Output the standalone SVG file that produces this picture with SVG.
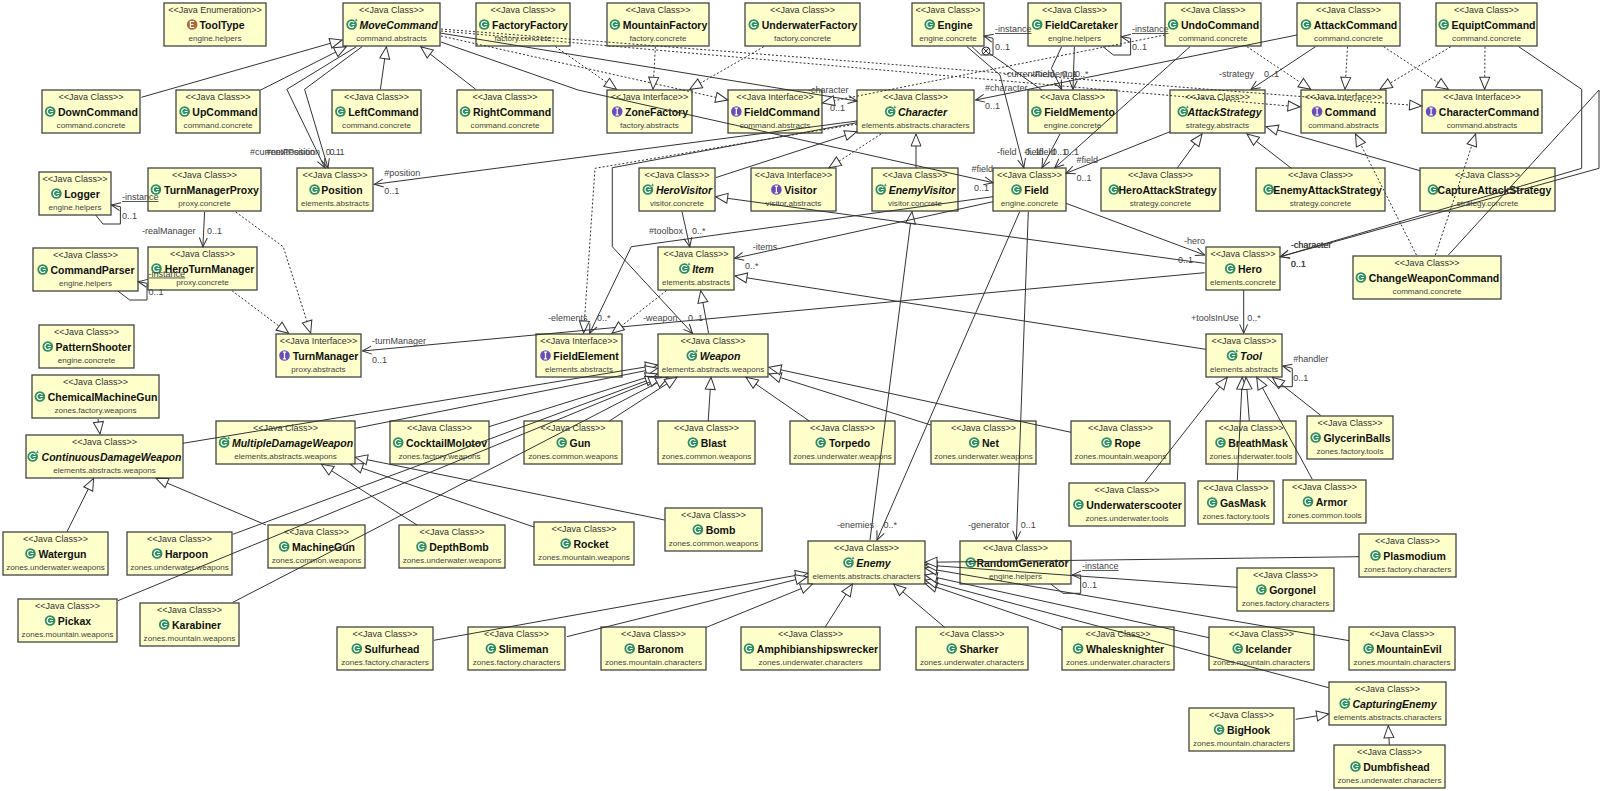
<svg xmlns="http://www.w3.org/2000/svg" width="1600" height="791" viewBox="0 0 1600 791">
<style>
text{font-family:"Liberation Sans",Arial,sans-serif;text-anchor:middle}
.n rect{fill:#ffffcc;stroke:#444;stroke-width:1.3}
.s{font-size:9px;fill:#333;transform:translateY(-.7px)}
.b{font-size:10.5px;font-weight:bold;fill:#111}
.i{font-size:10.5px;font-weight:bold;font-style:italic;fill:#111}
.p{font-size:8.1px;fill:#444;transform:translateY(-.7px)}
.l{font-size:9px;fill:#444;text-anchor:start}
.u{text-decoration:underline}
#connectors path{fill:none;stroke:#333;stroke-width:1}
#connectors .g{marker-end:url(#tri)}
#connectors .d{marker-end:url(#tri);stroke-dasharray:2 2}
#connectors .a{marker-end:url(#arr)}
</style>
<defs>
<marker id="tri" viewBox="0 0 14 14" refX="13" refY="7" markerWidth="14" markerHeight="14" markerUnits="userSpaceOnUse" orient="auto"><path d="M1,2L13,7L1,12Z" fill="#fff" stroke="#333" stroke-width="1"/></marker>
<marker id="arr" viewBox="0 0 12 12" refX="11" refY="6" markerWidth="12" markerHeight="12" markerUnits="userSpaceOnUse" orient="auto"><path d="M2,2L11,6L2,10" fill="none" stroke="#333" stroke-width="1"/></marker>
<g id="ic" transform="translate(-.8,0)"><circle r="5.3" fill="#2f8f5f"/><path d="M2.4,-1.9A3,3 0 1 0 2.4,1.9M0,0H3" fill="none" stroke="#fff" stroke-width="1.2"/></g>
<g id="ia"><use href="#ic"/><path d="M3.8,-6.6L5.6,-3.2H2Z" fill="#2f8f5f" stroke="#fff" stroke-width=".5"/></g>
<g id="ii" transform="translate(-.8,0)"><circle r="5.3" fill="#6a4db8"/><path d="M0,-3.4V3.4M-1.6,-3.4H1.6M-1.6,3.4H1.6" fill="none" stroke="#fff" stroke-width="1.2"/></g>
<g id="ie" transform="translate(-.8,0)"><circle r="5.3" fill="#b0673a"/><path d="M2,-3H-1.8V3H2M-1.8,0H1.4" fill="none" stroke="#fff" stroke-width="1.2"/></g>
</defs>
<rect width="1600" height="791" fill="#fff"/>
<g id="nodes">
<g id="ToolType" class="n" transform="translate(164,3)"><rect width="102" height="43"/><text class="s" x="51" y="11">&lt;&lt;Java Enumeration&gt;&gt;</text><use href="#ie" x="29" y="21.5"/><text class="b" x="58" y="26">ToolType</text><text class="p" x="51" y="38.5">engine.helpers</text></g>
<g id="MoveCommand" class="n" transform="translate(343,3)"><rect width="97" height="43"/><text class="s" x="48.5" y="11">&lt;&lt;Java Class&gt;&gt;</text><use href="#ia" x="9.4" y="21.5"/><text class="i" x="55.5" y="26">MoveCommand</text><text class="p" x="48.5" y="38.5">command.abstracts</text></g>
<g id="FactoryFactory" class="n" transform="translate(476,3)"><rect width="94" height="43"/><text class="s" x="47" y="11">&lt;&lt;Java Class&gt;&gt;</text><use href="#ic" x="9" y="21.5"/><text class="b" x="54" y="26">FactoryFactory</text><text class="p" x="47" y="38.5">factory.concrete</text></g>
<g id="MountainFactory" class="n" transform="translate(607,3)"><rect width="102" height="43"/><text class="s" x="51" y="11">&lt;&lt;Java Class&gt;&gt;</text><use href="#ic" x="8.7" y="21.5"/><text class="b" x="58" y="26">MountainFactory</text><text class="p" x="51" y="38.5">factory.concrete</text></g>
<g id="UnderwaterFactory" class="n" transform="translate(745,3)"><rect width="115" height="43"/><text class="s" x="57.5" y="11">&lt;&lt;Java Class&gt;&gt;</text><use href="#ic" x="9.6" y="21.5"/><text class="b" x="64.5" y="26">UnderwaterFactory</text><text class="p" x="57.5" y="38.5">factory.concrete</text></g>
<g id="Engine" class="n" transform="translate(912,3)"><rect width="72" height="43"/><text class="s" x="36" y="11">&lt;&lt;Java Class&gt;&gt;</text><use href="#ic" x="18.5" y="21.5"/><text class="b" x="43" y="26">Engine</text><text class="p" x="36" y="38.5">engine.concrete</text></g>
<g id="FieldCaretaker" class="n" transform="translate(1028,3)"><rect width="93" height="43"/><text class="s" x="46.5" y="11">&lt;&lt;Java Class&gt;&gt;</text><use href="#ic" x="10" y="21.5"/><text class="b" x="53.5" y="26">FieldCaretaker</text><text class="p" x="46.5" y="38.5">engine.helpers</text></g>
<g id="UndoCommand" class="n" transform="translate(1165,3)"><rect width="96" height="43"/><text class="s" x="48" y="11">&lt;&lt;Java Class&gt;&gt;</text><use href="#ic" x="8.9" y="21.5"/><text class="b" x="55" y="26">UndoCommand</text><text class="p" x="48" y="38.5">command.concrete</text></g>
<g id="AttackCommand" class="n" transform="translate(1297,3)"><rect width="103" height="43"/><text class="s" x="51.5" y="11">&lt;&lt;Java Class&gt;&gt;</text><use href="#ic" x="9.8" y="21.5"/><text class="b" x="58.5" y="26">AttackCommand</text><text class="p" x="51.5" y="38.5">command.concrete</text></g>
<g id="EquiptCommand" class="n" transform="translate(1436,3)"><rect width="101" height="43"/><text class="s" x="50.5" y="11">&lt;&lt;Java Class&gt;&gt;</text><use href="#ic" x="8.5" y="21.5"/><text class="b" x="57.5" y="26">EquiptCommand</text><text class="p" x="50.5" y="38.5">command.concrete</text></g>
<g id="DownCommand" class="n" transform="translate(42,90)"><rect width="98" height="43"/><text class="s" x="49" y="11">&lt;&lt;Java Class&gt;&gt;</text><use href="#ic" x="9" y="21.5"/><text class="b" x="56" y="26">DownCommand</text><text class="p" x="49" y="38.5">command.concrete</text></g>
<g id="UpCommand" class="n" transform="translate(176,90)"><rect width="84" height="43"/><text class="s" x="42" y="11">&lt;&lt;Java Class&gt;&gt;</text><use href="#ic" x="9.4" y="21.5"/><text class="b" x="49" y="26">UpCommand</text><text class="p" x="42" y="38.5">command.concrete</text></g>
<g id="LeftCommand" class="n" transform="translate(332,90)"><rect width="89" height="43"/><text class="s" x="44.5" y="11">&lt;&lt;Java Class&gt;&gt;</text><use href="#ic" x="9.2" y="21.5"/><text class="b" x="51.5" y="26">LeftCommand</text><text class="p" x="44.5" y="38.5">command.concrete</text></g>
<g id="RightCommand" class="n" transform="translate(457,90)"><rect width="96" height="43"/><text class="s" x="48" y="11">&lt;&lt;Java Class&gt;&gt;</text><use href="#ic" x="8.9" y="21.5"/><text class="b" x="55" y="26">RightCommand</text><text class="p" x="48" y="38.5">command.concrete</text></g>
<g id="ZoneFactory" class="n" transform="translate(607,90)"><rect width="85" height="43"/><text class="s" x="42.5" y="11">&lt;&lt;Java Interface&gt;&gt;</text><use href="#ii" x="11" y="21.5"/><text class="b" x="49.5" y="26">ZoneFactory</text><text class="p" x="42.5" y="38.5">factory.abstracts</text></g>
<g id="FieldCommand" class="n" transform="translate(728,90)"><rect width="94" height="43"/><text class="s" x="47" y="11">&lt;&lt;Java Interface&gt;&gt;</text><use href="#ii" x="9.1" y="21.5"/><text class="b" x="54" y="26">FieldCommand</text><text class="p" x="47" y="38.5">command.abstracts</text></g>
<g id="Character" class="n" transform="translate(857,90)"><rect width="117" height="43"/><text class="s" x="58.5" y="11">&lt;&lt;Java Class&gt;&gt;</text><use href="#ia" x="34" y="21.5"/><text class="i" x="65.5" y="26">Character</text><text class="p" x="58.5" y="38.5">elements.abstracts.characters</text></g>
<g id="FieldMemento" class="n" transform="translate(1028,90)"><rect width="89" height="43"/><text class="s" x="44.5" y="11">&lt;&lt;Java Class&gt;&gt;</text><use href="#ic" x="9.2" y="21.5"/><text class="b" x="51.5" y="26">FieldMemento</text><text class="p" x="44.5" y="38.5">engine.concrete</text></g>
<g id="AttackStrategy" class="n" transform="translate(1170,90)"><rect width="95" height="43"/><text class="s" x="47.5" y="11">&lt;&lt;Java Class&gt;&gt;</text><use href="#ia" x="13.6" y="21.5"/><text class="i" x="54.5" y="26">AttackStrategy</text><text class="p" x="47.5" y="38.5">strategy.abstracts</text></g>
<g id="Command" class="n" transform="translate(1301,90)"><rect width="85" height="43"/><text class="s" x="42.5" y="11">&lt;&lt;Java Interface&gt;&gt;</text><use href="#ii" x="16.9" y="21.5"/><text class="b" x="49.5" y="26">Command</text><text class="p" x="42.5" y="38.5">command.abstracts</text></g>
<g id="CharacterCommand" class="n" transform="translate(1422,90)"><rect width="120" height="43"/><text class="s" x="60" y="11">&lt;&lt;Java Interface&gt;&gt;</text><use href="#ii" x="9.9" y="21.5"/><text class="b" x="67" y="26">CharacterCommand</text><text class="p" x="60" y="38.5">command.abstracts</text></g>
<g id="TurnManagerProxy" class="n" transform="translate(148,168)"><rect width="113" height="43"/><text class="s" x="56.5" y="11">&lt;&lt;Java Class&gt;&gt;</text><use href="#ic" x="8.7" y="21.5"/><text class="b" x="63.5" y="26">TurnManagerProxy</text><text class="p" x="56.5" y="38.5">proxy.concrete</text></g>
<g id="Logger" class="n" transform="translate(39,172)"><rect width="72" height="43"/><text class="s" x="36" y="11">&lt;&lt;Java Class&gt;&gt;</text><use href="#ic" x="18.2" y="21.5"/><text class="b" x="43" y="26">Logger</text><text class="p" x="36" y="38.5">engine.helpers</text></g>
<g id="Position" class="n" transform="translate(297,168)"><rect width="76" height="43"/><text class="s" x="38" y="11">&lt;&lt;Java Class&gt;&gt;</text><use href="#ic" x="18.4" y="21.5"/><text class="b" x="45" y="26">Position</text><text class="p" x="38" y="38.5">elements.abstracts</text></g>
<g id="HeroVisitor" class="n" transform="translate(639,168)"><rect width="76" height="43"/><text class="s" x="38" y="11">&lt;&lt;Java Class&gt;&gt;</text><use href="#ia" x="9.7" y="21.5"/><text class="i" x="45" y="26">HeroVisitor</text><text class="p" x="38" y="38.5">visitor.concrete</text></g>
<g id="Visitor" class="n" transform="translate(751,168)"><rect width="85" height="43"/><text class="s" x="42.5" y="11">&lt;&lt;Java Interface&gt;&gt;</text><use href="#ii" x="26.2" y="21.5"/><text class="b" x="49.5" y="26">Visitor</text><text class="p" x="42.5" y="38.5">visitor.abstracts</text></g>
<g id="EnemyVisitor" class="n" transform="translate(872,168)"><rect width="86" height="43"/><text class="s" x="43" y="11">&lt;&lt;Java Class&gt;&gt;</text><use href="#ia" x="9.5" y="21.5"/><text class="i" x="50" y="26">EnemyVisitor</text><text class="p" x="43" y="38.5">visitor.concrete</text></g>
<g id="Field" class="n" transform="translate(993,168)"><rect width="73" height="43"/><text class="s" x="36.5" y="11">&lt;&lt;Java Class&gt;&gt;</text><use href="#ic" x="24.3" y="21.5"/><text class="b" x="43.5" y="26">Field</text><text class="p" x="36.5" y="38.5">engine.concrete</text></g>
<g id="HeroAttackStrategy" class="n" transform="translate(1101,168)"><rect width="119" height="43"/><text class="s" x="59.5" y="11">&lt;&lt;Java Class&gt;&gt;</text><use href="#ic" x="13.7" y="21.5"/><text class="b" x="66.5" y="26">HeroAttackStrategy</text><text class="p" x="59.5" y="38.5">strategy.concrete</text></g>
<g id="EnemyAttackStrategy" class="n" transform="translate(1256,168)"><rect width="129" height="43"/><text class="s" x="64.5" y="11">&lt;&lt;Java Class&gt;&gt;</text><use href="#ic" x="13.4" y="21.5"/><text class="b" x="71.5" y="26">EnemyAttackStrategy</text><text class="p" x="64.5" y="38.5">strategy.concrete</text></g>
<g id="CaptureAttackStrategy" class="n" transform="translate(1420,168)"><rect width="135" height="43"/><text class="s" x="67.5" y="11">&lt;&lt;Java Class&gt;&gt;</text><use href="#ic" x="13.8" y="21.5"/><text class="b" x="74.5" y="26">CaptureAttackStrategy</text><text class="p" x="67.5" y="38.5">strategy.concrete</text></g>
<g id="CommandParser" class="n" transform="translate(33,248)"><rect width="105" height="43"/><text class="s" x="52.5" y="11">&lt;&lt;Java Class&gt;&gt;</text><use href="#ic" x="10.5" y="21.5"/><text class="b" x="59.5" y="26">CommandParser</text><text class="p" x="52.5" y="38.5">engine.helpers</text></g>
<g id="HeroTurnManager" class="n" transform="translate(148,247)"><rect width="109" height="43"/><text class="s" x="54.5" y="11">&lt;&lt;Java Class&gt;&gt;</text><use href="#ic" x="9.3" y="21.5"/><text class="b" x="61.5" y="26">HeroTurnManager</text><text class="p" x="54.5" y="38.5">proxy.concrete</text></g>
<g id="Item" class="n" transform="translate(658,247)"><rect width="76" height="43"/><text class="s" x="38" y="11">&lt;&lt;Java Class&gt;&gt;</text><use href="#ia" x="27.2" y="21.5"/><text class="i" x="45" y="26">Item</text><text class="p" x="38" y="38.5">elements.abstracts</text></g>
<g id="Hero" class="n" transform="translate(1206,247)"><rect width="74" height="43"/><text class="s" x="37" y="11">&lt;&lt;Java Class&gt;&gt;</text><use href="#ic" x="25" y="21.5"/><text class="b" x="44" y="26">Hero</text><text class="p" x="37" y="38.5">elements.concrete</text></g>
<g id="ChangeWeaponCommand" class="n" transform="translate(1353,256)"><rect width="148" height="43"/><text class="s" x="74" y="11">&lt;&lt;Java Class&gt;&gt;</text><use href="#ic" x="8.7" y="21.5"/><text class="b" x="81" y="26">ChangeWeaponCommand</text><text class="p" x="74" y="38.5">command.concrete</text></g>
<g id="PatternShooter" class="n" transform="translate(39,325)"><rect width="95" height="43"/><text class="s" x="47.5" y="11">&lt;&lt;Java Class&gt;&gt;</text><use href="#ic" x="9.6" y="21.5"/><text class="b" x="54.5" y="26">PatternShooter</text><text class="p" x="47.5" y="38.5">engine.concrete</text></g>
<g id="TurnManager" class="n" transform="translate(276,334)"><rect width="85" height="43"/><text class="s" x="42.5" y="11">&lt;&lt;Java Interface&gt;&gt;</text><use href="#ii" x="9.3" y="21.5"/><text class="b" x="49.5" y="26">TurnManager</text><text class="p" x="42.5" y="38.5">proxy.abstracts</text></g>
<g id="FieldElement" class="n" transform="translate(536,334)"><rect width="86" height="43"/><text class="s" x="43" y="11">&lt;&lt;Java Interface&gt;&gt;</text><use href="#ii" x="10.3" y="21.5"/><text class="b" x="50" y="26">FieldElement</text><text class="p" x="43" y="38.5">elements.abstracts</text></g>
<g id="Weapon" class="n" transform="translate(658,334)"><rect width="110" height="43"/><text class="s" x="55" y="11">&lt;&lt;Java Class&gt;&gt;</text><use href="#ia" x="34.6" y="21.5"/><text class="i" x="62" y="26">Weapon</text><text class="p" x="55" y="38.5">elements.abstracts.weapons</text></g>
<g id="Tool" class="n" transform="translate(1206,334)"><rect width="76" height="43"/><text class="s" x="38" y="11">&lt;&lt;Java Class&gt;&gt;</text><use href="#ia" x="26.9" y="21.5"/><text class="i" x="45" y="26">Tool</text><text class="p" x="38" y="38.5">elements.abstracts</text></g>
<g id="ChemicalMachineGun" class="n" transform="translate(32,375)"><rect width="127" height="43"/><text class="s" x="63.5" y="11">&lt;&lt;Java Class&gt;&gt;</text><use href="#ic" x="8.7" y="21.5"/><text class="b" x="70.5" y="26">ChemicalMachineGun</text><text class="p" x="63.5" y="38.5">zones.factory.weapons</text></g>
<g id="ContinuousDamageWeapon" class="n" transform="translate(26,435)"><rect width="157" height="43"/><text class="s" x="78.5" y="11">&lt;&lt;Java Class&gt;&gt;</text><use href="#ia" x="7.5" y="21.5"/><text class="i" x="85.5" y="26">ContinuousDamageWeapon</text><text class="p" x="78.5" y="38.5">elements.abstracts.weapons</text></g>
<g id="MultipleDamageWeapon" class="n" transform="translate(216,421)"><rect width="139" height="43"/><text class="s" x="69.5" y="11">&lt;&lt;Java Class&gt;&gt;</text><use href="#ia" x="8.9" y="21.5"/><text class="i" x="76.5" y="26">MultipleDamageWeapon</text><text class="p" x="69.5" y="38.5">elements.abstracts.weapons</text></g>
<g id="CocktailMolotov" class="n" transform="translate(390,421)"><rect width="99" height="43"/><text class="s" x="49.5" y="11">&lt;&lt;Java Class&gt;&gt;</text><use href="#ic" x="9" y="21.5"/><text class="b" x="56.5" y="26">CocktailMolotov</text><text class="p" x="49.5" y="38.5">zones.factory.weapons</text></g>
<g id="Gun" class="n" transform="translate(524,421)"><rect width="98" height="43"/><text class="s" x="49" y="11">&lt;&lt;Java Class&gt;&gt;</text><use href="#ic" x="38.5" y="21.5"/><text class="b" x="56" y="26">Gun</text><text class="p" x="49" y="38.5">zones.common.weapons</text></g>
<g id="Blast" class="n" transform="translate(658,421)"><rect width="97" height="43"/><text class="s" x="48.5" y="11">&lt;&lt;Java Class&gt;&gt;</text><use href="#ic" x="35.7" y="21.5"/><text class="b" x="55.5" y="26">Blast</text><text class="p" x="48.5" y="38.5">zones.common.weapons</text></g>
<g id="Torpedo" class="n" transform="translate(790,421)"><rect width="105" height="43"/><text class="s" x="52.5" y="11">&lt;&lt;Java Class&gt;&gt;</text><use href="#ic" x="31.5" y="21.5"/><text class="b" x="59.5" y="26">Torpedo</text><text class="p" x="52.5" y="38.5">zones.underwater.weapons</text></g>
<g id="Net" class="n" transform="translate(931,421)"><rect width="105" height="43"/><text class="s" x="52.5" y="11">&lt;&lt;Java Class&gt;&gt;</text><use href="#ic" x="44" y="21.5"/><text class="b" x="59.5" y="26">Net</text><text class="p" x="52.5" y="38.5">zones.underwater.weapons</text></g>
<g id="Rope" class="n" transform="translate(1071,421)"><rect width="99" height="43"/><text class="s" x="49.5" y="11">&lt;&lt;Java Class&gt;&gt;</text><use href="#ic" x="36.4" y="21.5"/><text class="b" x="56.5" y="26">Rope</text><text class="p" x="49.5" y="38.5">zones.mountain.weapons</text></g>
<g id="BreathMask" class="n" transform="translate(1206,421)"><rect width="90" height="43"/><text class="s" x="45" y="11">&lt;&lt;Java Class&gt;&gt;</text><use href="#ic" x="15.3" y="21.5"/><text class="b" x="52" y="26">BreathMask</text><text class="p" x="45" y="38.5">zones.underwater.tools</text></g>
<g id="GlycerinBalls" class="n" transform="translate(1307,416)"><rect width="86" height="43"/><text class="s" x="43" y="11">&lt;&lt;Java Class&gt;&gt;</text><use href="#ic" x="9.5" y="21.5"/><text class="b" x="50" y="26">GlycerinBalls</text><text class="p" x="43" y="38.5">zones.factory.tools</text></g>
<g id="Underwaterscooter" class="n" transform="translate(1069,483)"><rect width="116" height="43"/><text class="s" x="58" y="11">&lt;&lt;Java Class&gt;&gt;</text><use href="#ic" x="10.2" y="21.5"/><text class="b" x="65" y="26">Underwaterscooter</text><text class="p" x="58" y="38.5">zones.underwater.tools</text></g>
<g id="GasMask" class="n" transform="translate(1198,481)"><rect width="76" height="43"/><text class="s" x="38" y="11">&lt;&lt;Java Class&gt;&gt;</text><use href="#ic" x="15" y="21.5"/><text class="b" x="45" y="26">GasMask</text><text class="p" x="38" y="38.5">zones.factory.tools</text></g>
<g id="Armor" class="n" transform="translate(1283,480)"><rect width="83" height="43"/><text class="s" x="41.5" y="11">&lt;&lt;Java Class&gt;&gt;</text><use href="#ic" x="25.8" y="21.5"/><text class="b" x="48.5" y="26">Armor</text><text class="p" x="41.5" y="38.5">zones.common.tools</text></g>
<g id="Bomb" class="n" transform="translate(665,508)"><rect width="97" height="43"/><text class="s" x="48.5" y="11">&lt;&lt;Java Class&gt;&gt;</text><use href="#ic" x="33.7" y="21.5"/><text class="b" x="55.5" y="26">Bomb</text><text class="p" x="48.5" y="38.5">zones.common.weapons</text></g>
<g id="Rocket" class="n" transform="translate(534,522)"><rect width="100" height="43"/><text class="s" x="50" y="11">&lt;&lt;Java Class&gt;&gt;</text><use href="#ic" x="32.5" y="21.5"/><text class="b" x="57" y="26">Rocket</text><text class="p" x="50" y="38.5">zones.mountain.weapons</text></g>
<g id="Watergun" class="n" transform="translate(3,532)"><rect width="105" height="43"/><text class="s" x="52.5" y="11">&lt;&lt;Java Class&gt;&gt;</text><use href="#ic" x="28.3" y="21.5"/><text class="b" x="59.5" y="26">Watergun</text><text class="p" x="52.5" y="38.5">zones.underwater.weapons</text></g>
<g id="Harpoon" class="n" transform="translate(127,532)"><rect width="105" height="43"/><text class="s" x="52.5" y="11">&lt;&lt;Java Class&gt;&gt;</text><use href="#ic" x="30.9" y="21.5"/><text class="b" x="59.5" y="26">Harpoon</text><text class="p" x="52.5" y="38.5">zones.underwater.weapons</text></g>
<g id="MachineGun" class="n" transform="translate(268,525)"><rect width="97" height="43"/><text class="s" x="48.5" y="11">&lt;&lt;Java Class&gt;&gt;</text><use href="#ic" x="17" y="21.5"/><text class="b" x="55.5" y="26">MachineGun</text><text class="p" x="48.5" y="38.5">zones.common.weapons</text></g>
<g id="DepthBomb" class="n" transform="translate(399,525)"><rect width="106" height="43"/><text class="s" x="53" y="11">&lt;&lt;Java Class&gt;&gt;</text><use href="#ic" x="23.3" y="21.5"/><text class="b" x="60" y="26">DepthBomb</text><text class="p" x="53" y="38.5">zones.underwater.weapons</text></g>
<g id="Pickax" class="n" transform="translate(18,599)"><rect width="99" height="43"/><text class="s" x="49.5" y="11">&lt;&lt;Java Class&gt;&gt;</text><use href="#ic" x="32.9" y="21.5"/><text class="b" x="56.5" y="26">Pickax</text><text class="p" x="49.5" y="38.5">zones.mountain.weapons</text></g>
<g id="Karabiner" class="n" transform="translate(140,603)"><rect width="99" height="43"/><text class="s" x="49.5" y="11">&lt;&lt;Java Class&gt;&gt;</text><use href="#ic" x="25" y="21.5"/><text class="b" x="56.5" y="26">Karabiner</text><text class="p" x="49.5" y="38.5">zones.mountain.weapons</text></g>
<g id="Enemy" class="n" transform="translate(808,541)"><rect width="117" height="43"/><text class="s" x="58.5" y="11">&lt;&lt;Java Class&gt;&gt;</text><use href="#ia" x="41.3" y="21.5"/><text class="i" x="65.5" y="26">Enemy</text><text class="p" x="58.5" y="38.5">elements.abstracts.characters</text></g>
<g id="RandomGenerator" class="n" transform="translate(960,541)"><rect width="111" height="43"/><text class="s" x="55.5" y="11">&lt;&lt;Java Class&gt;&gt;</text><use href="#ic" x="11.5" y="21.5"/><text class="b" x="62.5" y="26">RandomGenerator</text><text class="p" x="55.5" y="38.5">engine.helpers</text></g>
<g id="Plasmodium" class="n" transform="translate(1359,534)"><rect width="97" height="43"/><text class="s" x="48.5" y="11">&lt;&lt;Java Class&gt;&gt;</text><use href="#ic" x="17.3" y="21.5"/><text class="b" x="55.5" y="26">Plasmodium</text><text class="p" x="48.5" y="38.5">zones.factory.characters</text></g>
<g id="Gorgonel" class="n" transform="translate(1237,568)"><rect width="97" height="43"/><text class="s" x="48.5" y="11">&lt;&lt;Java Class&gt;&gt;</text><use href="#ic" x="25.2" y="21.5"/><text class="b" x="55.5" y="26">Gorgonel</text><text class="p" x="48.5" y="38.5">zones.factory.characters</text></g>
<g id="Sulfurhead" class="n" transform="translate(337,627)"><rect width="96" height="43"/><text class="s" x="48" y="11">&lt;&lt;Java Class&gt;&gt;</text><use href="#ic" x="20.6" y="21.5"/><text class="b" x="55" y="26">Sulfurhead</text><text class="p" x="48" y="38.5">zones.factory.characters</text></g>
<g id="Slimeman" class="n" transform="translate(468,627)"><rect width="97" height="43"/><text class="s" x="48.5" y="11">&lt;&lt;Java Class&gt;&gt;</text><use href="#ic" x="23.7" y="21.5"/><text class="b" x="55.5" y="26">Slimeman</text><text class="p" x="48.5" y="38.5">zones.factory.characters</text></g>
<g id="Baronom" class="n" transform="translate(601,627)"><rect width="105" height="43"/><text class="s" x="52.5" y="11">&lt;&lt;Java Class&gt;&gt;</text><use href="#ic" x="29.5" y="21.5"/><text class="b" x="59.5" y="26">Baronom</text><text class="p" x="52.5" y="38.5">zones.mountain.characters</text></g>
<g id="Amphibianshipswrecker" class="n" transform="translate(741,627)"><rect width="139" height="43"/><text class="s" x="69.5" y="11">&lt;&lt;Java Class&gt;&gt;</text><use href="#ic" x="8.8" y="21.5"/><text class="b" x="76.5" y="26">Amphibianshipswrecker</text><text class="p" x="69.5" y="38.5">zones.underwater.characters</text></g>
<g id="Sharker" class="n" transform="translate(916,627)"><rect width="112" height="43"/><text class="s" x="56" y="11">&lt;&lt;Java Class&gt;&gt;</text><use href="#ic" x="36.5" y="21.5"/><text class="b" x="63" y="26">Sharker</text><text class="p" x="56" y="38.5">zones.underwater.characters</text></g>
<g id="Whalesknighter" class="n" transform="translate(1062,627)"><rect width="112" height="43"/><text class="s" x="56" y="11">&lt;&lt;Java Class&gt;&gt;</text><use href="#ic" x="16.9" y="21.5"/><text class="b" x="63" y="26">Whalesknighter</text><text class="p" x="56" y="38.5">zones.underwater.characters</text></g>
<g id="Icelander" class="n" transform="translate(1209,627)"><rect width="105" height="43"/><text class="s" x="52.5" y="11">&lt;&lt;Java Class&gt;&gt;</text><use href="#ic" x="29.5" y="21.5"/><text class="b" x="59.5" y="26">Icelander</text><text class="p" x="52.5" y="38.5">zones.mountain.characters</text></g>
<g id="MountainEvil" class="n" transform="translate(1349,627)"><rect width="106" height="43"/><text class="s" x="53" y="11">&lt;&lt;Java Class&gt;&gt;</text><use href="#ic" x="20.4" y="21.5"/><text class="b" x="60" y="26">MountainEvil</text><text class="p" x="53" y="38.5">zones.mountain.characters</text></g>
<g id="CapturingEnemy" class="n" transform="translate(1329,682)"><rect width="117" height="43"/><text class="s" x="58.5" y="11">&lt;&lt;Java Class&gt;&gt;</text><use href="#ia" x="16.5" y="21.5"/><text class="i" x="65.5" y="26">CapturingEnemy</text><text class="p" x="58.5" y="38.5">elements.abstracts.characters</text></g>
<g id="BigHook" class="n" transform="translate(1189,708)"><rect width="105" height="43"/><text class="s" x="52.5" y="11">&lt;&lt;Java Class&gt;&gt;</text><use href="#ic" x="30.9" y="21.5"/><text class="b" x="59.5" y="26">BigHook</text><text class="p" x="52.5" y="38.5">zones.mountain.characters</text></g>
<g id="Dumbfishead" class="n" transform="translate(1334,745)"><rect width="111" height="43"/><text class="s" x="55.5" y="11">&lt;&lt;Java Class&gt;&gt;</text><use href="#ic" x="22.3" y="21.5"/><text class="b" x="62.5" y="26">Dumbfishead</text><text class="p" x="55.5" y="38.5">zones.underwater.characters</text></g>
</g>
<g id="connectors">
<path class="g" d="M141.4,97.3L342,40"/>
<path class="g" d="M260.7,90L346.4,46.7"/>
<path class="a" d="M356.4,46.7L286.8,89.3L325,168"/>
<path class="a" d="M362,46.7L304.6,89.3L328,168"/>
<path class="g" d="M380.4,89.3L386.4,46.7"/>
<path class="g" d="M475.7,89.3L420.7,46.7"/>
<path class="a" d="M857,121L374.3,184.3"/>
<path class="a" d="M857,122.7L612.3,167.7V246.7L692.5,333.3"/>
<path class="d" d="M857,124L595,168.3L583.6,333"/>
<path class="a" d="M440,33L857,101"/>
<path class="a" d="M441,42L578,90L993,182.7"/>
<path class="d" d="M441,36L727.7,100"/>
<path class="d" d="M441,29L1421.6,106"/>
<path class="d" d="M441,31L1300,107"/>
<path class="d" d="M555.5,46.7L616.5,89.3"/>
<path class="d" d="M655.4,46.7L653,89.3"/>
<path class="d" d="M763.8,46.7L689.8,89.3"/>
<path class="d" d="M1165,35L822.4,103"/>
<path class="d" d="M881,134L829,167.7"/>
<path class="g" d="M715.6,177.7L856.8,131.7"/>
<path class="g" d="M916,168.3V134"/>
<path class="g" d="M870,540L912,211.7"/>
<path class="g" d="M1204.6,263.3L715.6,196.7"/>
<path class="a" d="M1066,203.3L1204.6,255"/>
<path class="a" d="M1204.6,272.7L362.5,351"/>
<path class="a" d="M993,201.7L734.6,258.3"/>
<path class="g" d="M1205.7,349.3L735,276"/>
<path class="d" d="M666.4,290.7L612,333.3"/>
<path class="g" d="M708.6,333.3L700.7,290.7"/>
<path class="a" d="M682,211.7L689.8,246.7"/>
<path class="a" d="M993,196.7L631.3,246.7L589.6,333.3"/>
<path class="a" d="M1019.7,211.7L877,540"/>
<path class="a" d="M1028.3,211.7L1016.4,540"/>
<path class="a" d="M967,46.7L1000,75L1023.8,167.7"/>
<path class="a" d="M972,46.7L980.8,55H993V38.3L984,36"/>
<path d="M986,51L1042,90"/>
<circle cx="986" cy="51" r="4" fill="#fff" stroke="#333"/>
<path d="M983.2,48.2L988.8,53.8M988.8,48.2L983.2,53.8"/>
<path class="a" d="M1074.4,46.7L1073,89.3"/>
<path class="a" d="M1061.7,46.7L1051.4,68.3L1061.7,89.3"/>
<path class="a" d="M1297,35L975.6,100"/>
<path class="a" d="M1103,46.7L1113.4,55H1130.6V38.3L1121.3,36.7"/>
<path class="a" d="M1190,46.7L1054.8,167.7"/>
<path class="a" d="M1060,134L1042,167.7"/>
<path class="a" d="M1170,131.7L1066,173.3"/>
<path class="a" d="M1315.5,46.7L1251,89.3"/>
<path class="d" d="M1347.5,46.7L1345,89.3"/>
<path class="d" d="M1383.7,46.7L1448.4,89.3"/>
<path class="d" d="M1247,46.7L1310.7,89.3"/>
<path class="d" d="M1450.8,46.7L1380,89.3"/>
<path class="d" d="M1485,46.7L1484.6,89.3"/>
<path class="a" d="M1518.7,46.7L1581.7,89.3V168.3L1280.4,256.7"/>
<path class="a" d="M1448.4,255L1599,90V168.3L1280.4,256.7"/>
<path class="g" d="M1177,168.3L1202,134"/>
<path class="g" d="M1291.4,168.3L1247,134"/>
<path class="g" d="M1420,170.7L1266,126.7"/>
<path class="d" d="M1416.4,255L1355.5,134"/>
<path class="d" d="M1435.4,255L1475.6,134"/>
<path class="a" d="M95.7,215L102.9,224H120.4V206.7L111.4,205"/>
<path class="a" d="M204.6,212L202.9,246.7"/>
<path class="d" d="M235.7,212L283.2,246.7L310.7,333"/>
<path class="d" d="M232,290.7L288.6,333.3"/>
<path class="a" d="M117.9,291L129.6,300H147V283.3L138.2,281.7"/>
<path class="g" d="M98,419L100,434"/>
<path class="g" d="M67,531.7L93.6,478.3"/>
<path class="g" d="M266,525L156,478.3"/>
<path class="g" d="M182.9,443.3L657.5,365"/>
<path class="g" d="M355.4,428.3L657.5,368.3"/>
<path class="g" d="M489,426.7L657.5,374"/>
<path class="g" d="M232.9,534.3L657.5,376.7"/>
<path class="g" d="M117.9,600.7L661,377.3"/>
<path class="g" d="M232.9,602.3L668,377.3"/>
<path class="g" d="M609.3,421L677,377.3"/>
<path class="g" d="M708.2,421L711,377.3"/>
<path class="g" d="M809.3,421L746,377.3"/>
<path class="g" d="M930.7,425L769,374"/>
<path class="g" d="M1071,432.3L769,367.3"/>
<path class="g" d="M417,525L321.4,464.3"/>
<path class="g" d="M534,527L350.7,464.3"/>
<path class="g" d="M664.6,520L355.4,457.3"/>
<path class="g" d="M1145,482.3L1227.3,377.3"/>
<path class="g" d="M1237.3,480L1242.3,377.3"/>
<path class="g" d="M1249.3,420.7L1246,377.3"/>
<path class="g" d="M1312.3,479.3L1256.7,377.3"/>
<path class="g" d="M1320.7,415.3L1272.3,377.3"/>
<path class="a" d="M1266.7,377.3L1277.3,386.7H1292.3V368.3L1282.7,366"/>
<path class="a" d="M1243.7,290V333.3"/>
<path class="g" d="M433.9,640.3L807.5,573.3"/>
<path class="g" d="M566.8,636.7L807.5,576.7"/>
<path class="g" d="M706.4,627.3L812.5,584"/>
<path class="g" d="M825,627.3L852.5,584"/>
<path class="g" d="M944.6,627.3L893.6,584"/>
<path class="g" d="M1062,630L925,583.3"/>
<path class="g" d="M1328.7,687.7L925,580"/>
<path class="g" d="M1209,637.7L925,575"/>
<path class="g" d="M1349.3,640.7L925,568"/>
<path class="g" d="M1237.3,587.3L925,565"/>
<path class="g" d="M1359,556.7L925,562.3"/>
<path class="g" d="M1295.7,719.3L1328.7,714"/>
<path class="g" d="M1389.3,744.7L1388.3,725.7"/>
<path class="a" d="M1050.7,584L1063,593.3H1080.7V575L1072.1,575"/>
<text class="l" x="250" y="155">#currentPosition</text>
<text class="l" x="266" y="155">#nextPosition</text>
<text class="l" x="325.7" y="155">0..1</text>
<text class="l" x="329.5" y="155">0..1</text>
<text class="l" x="384.3" y="176">#position</text>
<text class="l" x="384.3" y="194">0..1</text>
<text class="l u" x="122" y="200">-instance</text>
<text class="l" x="122" y="219">0..1</text>
<text class="l" x="142" y="234">-realManager</text>
<text class="l" x="207" y="234">0..1</text>
<text class="l u" x="148.6" y="276.5">-instance</text>
<text class="l" x="148.6" y="295">0..1</text>
<text class="l" x="372" y="344">-turnManager</text>
<text class="l" x="372" y="362.5">0..1</text>
<text class="l" x="548" y="321">-elements</text>
<text class="l" x="597" y="321">0..*</text>
<text class="l" x="643" y="320.5">-weapon</text>
<text class="l" x="688" y="320.5">0..1</text>
<text class="l" x="649" y="234">#toolbox</text>
<text class="l" x="692" y="234">0..*</text>
<text class="l" x="752.8" y="250">-items</text>
<text class="l" x="745" y="269">0..*</text>
<text class="l" x="808" y="92.5">-character</text>
<text class="l" x="830" y="111">0..1</text>
<text class="l" x="985" y="90.5">#character</text>
<text class="l" x="985" y="109">0..1</text>
<text class="l" x="971.5" y="172">#field</text>
<text class="l" x="974" y="191">0..1</text>
<text class="l u" x="995" y="32">-instance</text>
<text class="l" x="995" y="50">0..1</text>
<text class="l u" x="1132" y="32">-instance</text>
<text class="l" x="1132" y="50">0..1</text>
<text class="l" x="1004" y="77">-currentField</text>
<text class="l" x="1032" y="77">-mementos</text>
<text class="l" x="1062" y="77">0..1</text>
<text class="l" x="1075" y="77">0..*</text>
<text class="l" x="997" y="155">-field</text>
<text class="l" x="1024" y="155">-field</text>
<text class="l" x="1025" y="155">0..1</text>
<text class="l" x="1036" y="155">-field</text>
<text class="l" x="1052" y="155">0..1</text>
<text class="l" x="1064" y="155">0..1</text>
<text class="l" x="1076.5" y="163">#field</text>
<text class="l" x="1076.5" y="181">0..1</text>
<text class="l" x="1219" y="77">-strategy</text>
<text class="l" x="1264" y="77">0..1</text>
<text class="l" x="1184" y="244">-hero</text>
<text class="l" x="1178" y="262.5">0..1</text>
<text class="l" x="1290.7" y="248">-character</text>
<text class="l" x="1290.9" y="248">-character</text>
<text class="l" x="1290.7" y="267">0..1</text>
<text class="l" x="1290.9" y="267">0..1</text>
<text class="l" x="1191" y="320.5">+toolsInUse</text>
<text class="l" x="1247.3" y="320.5">0..*</text>
<text class="l" x="1293.3" y="362">#handler</text>
<text class="l" x="1293.3" y="381">0..1</text>
<text class="l" x="837" y="527.5">-enemies</text>
<text class="l" x="883.6" y="527.5">0..*</text>
<text class="l" x="968" y="528">-generator</text>
<text class="l" x="1020.7" y="528">0..1</text>
<text class="l u" x="1082" y="569">-instance</text>
<text class="l" x="1082" y="588">0..1</text>
</g>
</svg>
